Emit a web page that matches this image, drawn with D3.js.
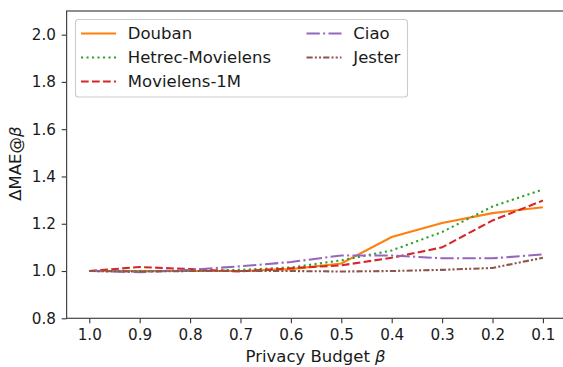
<!DOCTYPE html>
<html>
<head>
<meta charset="utf-8">
<script src="https://cdn.jsdelivr.net/npm/d3@7"></script>
<style>
body{margin:0;background:#fff;}
svg text{font-family:"DejaVu Sans",sans-serif;fill:#1a1a1a;}
</style>
</head>
<body>
<svg id="chart" width="563" height="367"></svg>
<script>
(function(){
var budgets = [1.0, 0.9, 0.8, 0.7, 0.6, 0.5, 0.4, 0.3, 0.2, 0.1];
var yTicks = [0.8, 1.0, 1.2, 1.4, 1.6, 1.8, 2.0];

var douban  = [1.000, 1.000, 1.000, 1.000, 1.008, 1.032, 1.144, 1.203, 1.245, 1.270];
var hetrec  = [1.000, 1.000, 1.000, 1.005, 1.015, 1.045, 1.087, 1.165, 1.273, 1.345];
var ml1m    = [1.000, 1.017, 1.008, 0.998, 1.012, 1.024, 1.056, 1.100, 1.214, 1.298];
var ciao    = [1.000, 0.995, 1.005, 1.020, 1.038, 1.066, 1.066, 1.054, 1.054, 1.070];
var jester  = [1.000, 0.998, 1.000, 1.000, 1.000, 0.998, 1.000, 1.005, 1.013, 1.056];

var SeriesNames = ["Douban", "Hetrec-Movielens", "Movielens-1M", "Ciao", "Jester"];
var SeriesData = [douban, hetrec, ml1m, ciao, jester];
var SeriesColors = ["#ff7f0e", "#2ca02c", "#d62728", "#9467bd", "#8c564b"];
var SeriesDash = [null, "2.1,3.4", "7.7,3.3", "13.3,3.3,2.1,3.3", "6.2,2.1,2.1,2.1,2.1,2.1"];

var Left = 66.6, Right = 565.6, Top = 11, Bottom = 318.3;
var LineW = 2.08, TickFont = 15.2, LabelFont = 16.5;

var svg = d3.select("#chart");
var x = d3.scaleLinear().domain([1.045, 0.055]).range([Left, Right]);
var y = d3.scaleLinear().domain([0.8, 2.1]).range([Bottom, Top]);

function getTranslate(px, py){
	return "translate(" + px + "," + py + ")";
}
// label with an italic (math) beta at the end
function addMathLabel(textEl, prefix){
	textEl.append("tspan").text(prefix);
	textEl.append("tspan").attr("font-style", "italic").text("\u03B2");
}

// lines
var lineGen = d3.line()
		.x(function(d, i){ return x(budgets[i]); })
		.y(function(d){ return y(d); });
var series = SeriesNames.map(function(name, i){
	return {name: name, values: SeriesData[i], color: SeriesColors[i], dash: SeriesDash[i]};
});
var plot = svg.append("g");
plot.selectAll("path.series").data(series).enter().append("path")
		.attr("class", "series")
		.attr("fill", "none")
		.attr("stroke", function(d){ return d.color; })
		.attr("stroke-width", LineW)
		.attr("stroke-dasharray", function(d){ return d.dash; })
		.attr("d", function(d){ return lineGen(d.values); });

// axes
var xAxis = d3.axisBottom(x).tickValues(budgets)
		.tickFormat(function(d){ return d.toFixed(1); })
		.tickSize(4.9).tickPadding(6.5);
var yAxis = d3.axisLeft(y).tickValues(yTicks)
		.tickFormat(function(d){ return d.toFixed(1); })
		.tickSize(4.9).tickPadding(5.8);

var gx = svg.append("g").attr("transform", getTranslate(0, Bottom)).call(xAxis);
var gy = svg.append("g").attr("transform", getTranslate(Left, 0)).call(yAxis);
[gx, gy].forEach(function(g){
	g.select(".domain").remove();
	g.selectAll(".tick line").attr("stroke", "#333").attr("stroke-width", 1.1);
	g.selectAll(".tick text").attr("font-size", TickFont).style("fill", "#1a1a1a");
});

// spines
svg.append("rect")
		.attr("x", Left).attr("y", Top)
		.attr("width", Right - Left).attr("height", Bottom - Top)
		.attr("fill", "none").attr("stroke", "#444").attr("stroke-width", 1.2);

// axis labels
var xLabel = svg.append("text")
		.attr("x", (Left + Right) / 2 - 0.5).attr("y", 362)
		.attr("text-anchor", "middle").attr("font-size", LabelFont);
addMathLabel(xLabel, "Privacy Budget ");
var yLabel = svg.append("text")
		.attr("transform", getTranslate(20.5, (Top + Bottom) / 2 - 1) + " rotate(-90)")
		.attr("text-anchor", "middle").attr("font-size", LabelFont);
addMathLabel(yLabel, "\u0394MAE@");

// legend
var legend = svg.append("g");
legend.append("rect")
		.attr("x", 75.5).attr("y", 19.5).attr("width", 332).attr("height", 77.5)
		.attr("rx", 3).attr("ry", 3)
		.attr("fill", "#fff").attr("fill-opacity", 0.8)
		.attr("stroke", "#cccccc").attr("stroke-width", 1.1);
var legendPos = [[81, 33.5], [81, 57.5], [81, 81.5], [306.5, 33.5], [306.5, 57.5]];
var items = legend.selectAll("g.item").data(series).enter().append("g")
		.attr("class", "item")
		.attr("transform", function(d, i){ return getTranslate(legendPos[i][0], legendPos[i][1]); });
items.append("line")
		.attr("x1", 0).attr("x2", 35).attr("y1", 0).attr("y2", 0)
		.attr("stroke", function(d){ return d.color; })
		.attr("stroke-width", LineW)
		.attr("stroke-dasharray", function(d){ return d.dash; });
items.append("text")
		.attr("x", 46.8).attr("y", 0).attr("dy", "0.36em")
		.attr("font-size", LabelFont)
		.text(function(d){ return d.name; });
})();
</script>
</body>
</html>
